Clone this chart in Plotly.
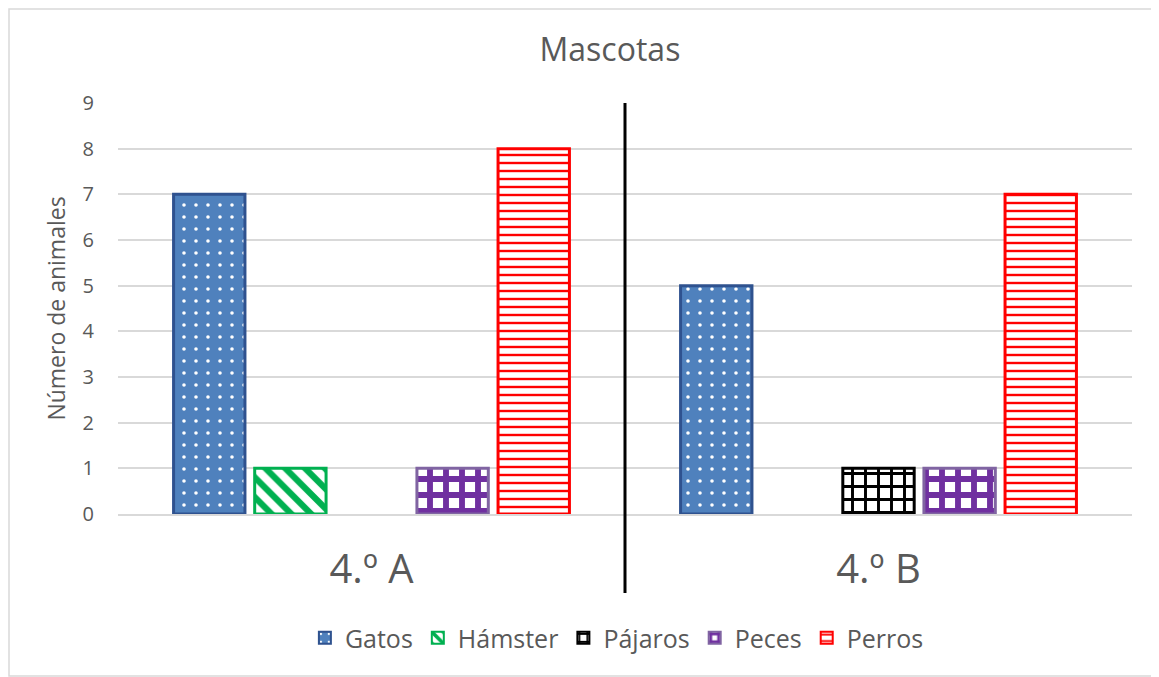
import plotly.graph_objects as go

categories = ["4.º A", "4.º B"]
series_names = ["Gatos", "Hámster", "Pájaros", "Peces", "Perros"]
gatos = [7, 5]
hamster = [1, 0]
pajaros = [0, 1]
peces = [1, 1]
perros = [8, 7]
y_ticks = [0, 1, 2, 3, 4, 5, 6, 7, 8, 9]

values = [gatos, hamster, pajaros, peces, perros]

styles = [
    dict(shape=".", fg="#FFFFFF", bg="#4F81BD", size=12, sol=0.07, line="#2F528F"),
    dict(shape="\\", fg="#00B050", bg="#FFFFFF", size=14, sol=0.45, line="#00B050"),
    dict(shape="+", fg="#000000", bg="#FFFFFF", size=13, sol=0.4, line="#000000"),
    dict(shape="+", fg="#7030A0", bg="#FFFFFF", size=16, sol=0.6, line="#8064A2"),
    dict(shape="-", fg="#FF0000", bg="#FFFFFF", size=8, sol=0.3, line="#FF0000"),
]

FONT = "'Open Sans', 'Noto Sans', sans-serif"
GREY = "#595959"

fig = go.Figure()
for name, vals, st in zip(series_names, values, styles):
    fig.add_trace(go.Bar(
        name=name,
        x=categories,
        y=[v if v else None for v in vals],
        marker=dict(
            color=st["bg"],
            line=dict(color=st["line"], width=3),
            pattern=dict(shape=st["shape"], fgcolor=st["fg"], bgcolor=st["bg"],
                         size=st["size"], solidity=st["sol"], fillmode="replace"),
        ),
    ))

fig.update_layout(
    width=1151, height=669,
    paper_bgcolor="white", plot_bgcolor="white",
    barmode="group", bargap=0.2, bargroupgap=0.12,
    margin=dict(l=110, r=27, t=95, b=163),
    title=dict(text="Mascotas", x=0.523, xanchor="center", y=0.937, yanchor="middle",
               font=dict(family=FONT, size=32, color=GREY)),
    font=dict(family=FONT, color=GREY),
    showlegend=True,
    legend=dict(orientation="h", x=0.492, xanchor="center", y=-0.302, yanchor="middle",
                font=dict(family=FONT, size=25, color=GREY), traceorder="normal",
                itemsizing="constant"),
    xaxis=dict(showgrid=False, showline=True, linecolor="#D9D9D9", linewidth=1.5,
               ticks="", tickfont=dict(family=FONT, size=40, color=GREY),
               ticklabelstandoff=19),
    yaxis=dict(range=[0, 9], tickvals=y_ticks, showgrid=True, gridcolor="#D9D9D9",
               gridwidth=1.5, zeroline=False, showline=False, ticks="",
               tickfont=dict(family=FONT, size=20, color=GREY), ticklabelstandoff=23,
               title=dict(text="Número de animales", font=dict(family=FONT, size=23, color=GREY),
                          standoff=10)),
    shapes=[
        dict(type="line", xref="x", yref="paper", x0=0.5, x1=0.5, y0=1.0, y1=-0.192,
             line=dict(color="black", width=3)),
        dict(type="rect", xref="paper", yref="paper", x0=-0.1075, x1=1.05, y0=-0.394, y1=1.229,
             line=dict(color="#D9D9D9", width=1.5), fillcolor="rgba(0,0,0,0)", layer="below"),
    ],
)

fig.write_html("out.html")
